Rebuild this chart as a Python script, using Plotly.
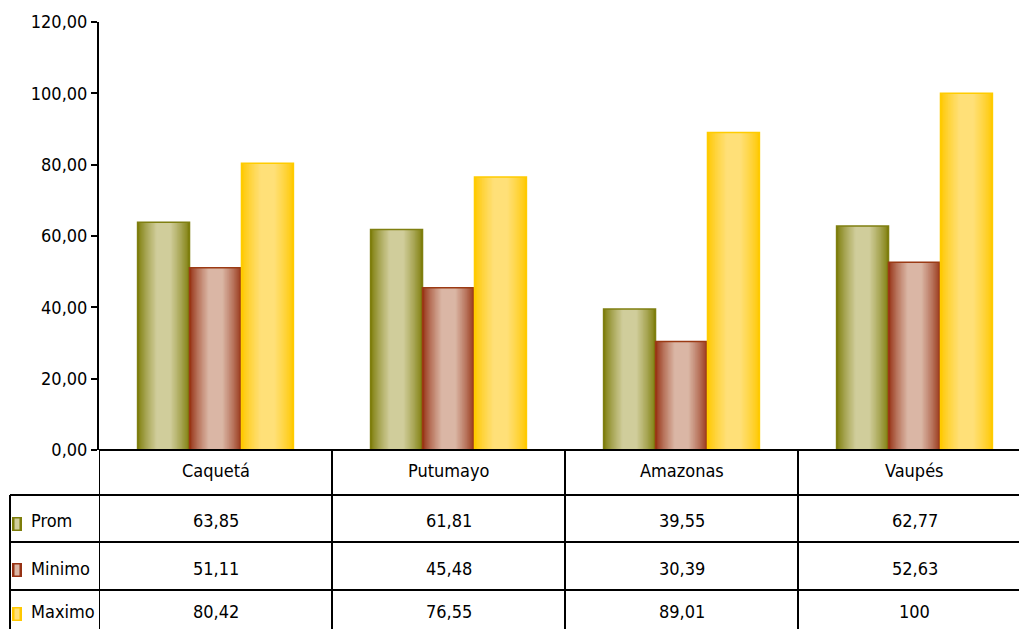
import plotly.graph_objects as go

categories = ["Caquetá", "Putumayo", "Amazonas", "Vaupés"]
series_names = ["Prom", "Minimo", "Maximo"]
prom = [63.85, 61.81, 39.55, 62.77]
minimo = [51.11, 45.48, 30.39, 52.63]
maximo = [80.42, 76.55, 89.01, 100]
y_ticks = [0, 20, 40, 60, 80, 100, 120]

series_values = [prom, minimo, maximo]
dark_cols = [(125, 125, 10), (150, 50, 20), (255, 200, 0)]
light_cols = [(208, 205, 155), (218, 182, 165), (255, 224, 120)]
outline_cols = ["#7f7f10", "#9b3a14", "#ffcc00"]

W, H = 1019, 629
FONT = "Liberation Sans Narrow, Arial Narrow, DejaVu Sans Condensed, sans-serif"
FS = 18
TXT_DY = 11

def px(x):
    return x / W

def py(y):
    return 1 - y / H

def mix(a, b, t):
    return "rgb(%d,%d,%d)" % tuple(round(a[i] + (b[i] - a[i]) * t) for i in range(3))

def fmt(v):
    return ("%g" % v).replace(".", ",")

fig = go.Figure()
bw = 0.223
M = 16
xs = list(range(len(categories)))
for k, vals in enumerate(series_values):
    off = (k - 1) * bw
    for m in range(M):
        f = m / (M - 1)
        wdt = bw * (1 - 0.72 * f)
        t = f ** 0.8
        col = mix(dark_cols[k], light_cols[k], t)
        fig.add_trace(go.Bar(
            x=[x + off for x in xs], y=vals, width=wdt,
            marker=dict(color=col, line=dict(width=0)),
            showlegend=False, hoverinfo="skip"))
    fig.add_trace(go.Bar(
        x=[x + off for x in xs], y=vals, width=bw, name=series_names[k],
        marker=dict(color="rgba(0,0,0,0)", line=dict(color=outline_cols[k], width=1.5)),
        showlegend=False))

fig.update_layout(
    width=W, height=H, barmode="overlay", separators=",.",
    paper_bgcolor="white", plot_bgcolor="white",
    margin=dict(l=0, r=0, t=0, b=0, autoexpand=False),
    font=dict(family=FONT, size=FS, color="black"),
    xaxis=dict(domain=[px(99), 1], range=[-0.5, -0.5 + 920 / 233],
               showticklabels=False, showgrid=False, zeroline=False, showline=False,
               automargin=False),
    yaxis=dict(domain=[py(450), py(22)], range=[0, 120], tickvals=y_ticks,
               tickformat=".2f", ticks="outside", ticklen=6, tickwidth=1.5,
               tickcolor="black", showline=True, linecolor="black", linewidth=2,
               showgrid=False, zeroline=False, automargin=False,
               tickfont=dict(family=FONT, size=FS)),
)

shapes = []
line = dict(color="black", width=2)
shapes.append(dict(type="line", xref="x", yref="paper", x0=-0.5, x1=4, y0=py(450), y1=py(450), line=line))
for yy in [495, 542, 590]:
    shapes.append(dict(type="line", xref="paper", yref="paper", x0=px(10), x1=1, y0=py(yy), y1=py(yy), line=line))
for b in [-0.5, 0.5, 1.5, 2.5]:
    shapes.append(dict(type="line", xref="x", yref="paper", x0=b, x1=b, y0=py(450), y1=0, line=line))
shapes.append(dict(type="line", xref="paper", yref="paper", x0=px(10), x1=px(10), y0=py(495), y1=0, line=line))

annotations = []
for i, c in enumerate(categories):
    annotations.append(dict(x=i, y=py(472 + TXT_DY), xref="x", yref="paper", text=c, showarrow=False,
                            font=dict(family=FONT, size=FS)))
row_y = [522, 570, 613]
key_y = [524, 570, 614]
for r, (name, vals) in enumerate(zip(series_names, series_values)):
    yc = row_y[r]
    ky = key_y[r]
    shapes.append(dict(type="rect", xref="paper", yref="paper", x0=px(12), x1=px(22),
                       y0=py(ky + 7), y1=py(ky - 7), fillcolor=mix(dark_cols[r], dark_cols[r], 0),
                       line=dict(width=0)))
    shapes.append(dict(type="rect", xref="paper", yref="paper", x0=px(14.5), x1=px(19.5),
                       y0=py(ky + 5.5), y1=py(ky - 5.5), fillcolor=mix(light_cols[r], light_cols[r], 0),
                       line=dict(width=0)))
    annotations.append(dict(x=px(29), y=py(yc + TXT_DY), xref="paper", yref="paper", text=name,
                            showarrow=False, xanchor="left", font=dict(family=FONT, size=FS)))
    for i, v in enumerate(vals):
        annotations.append(dict(x=i, y=py(yc + TXT_DY), xref="x", yref="paper", text=fmt(v),
                                showarrow=False, font=dict(family=FONT, size=FS)))

fig.update_layout(shapes=shapes, annotations=annotations)
fig.write_html("out.html", config={"displayModeBar": False},
               post_script="document.body.style.margin='0';document.body.style.overflow='hidden';")
